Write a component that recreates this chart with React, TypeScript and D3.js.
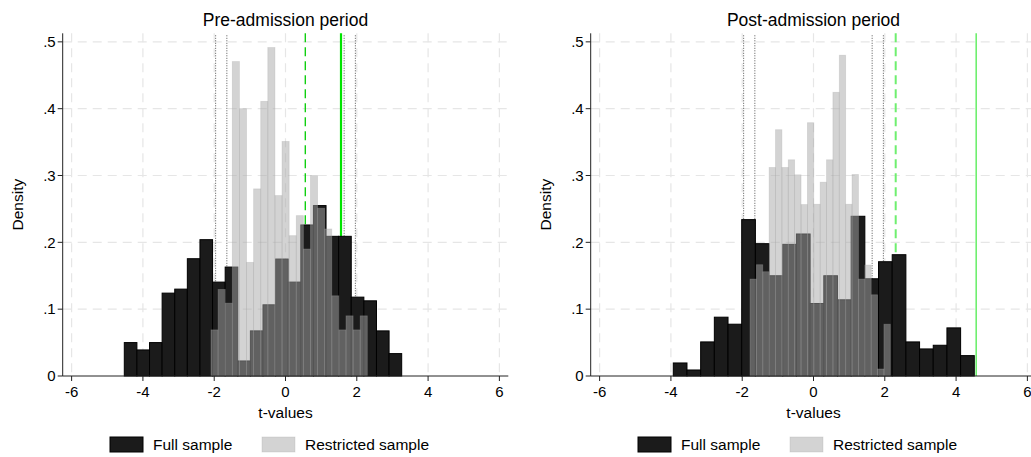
import React from "react";
import * as d3 from "d3";

// Histogram densities (t-statistics), one value per bin
const preFull = [0.05, 0.039, 0.05, 0.124, 0.13, 0.1755, 0.204, 0.1405, 0.163, 0.0225, 0.0675,
  0.1065, 0.175, 0.1405, 0.226, 0.255, 0.209, 0.209, 0.118, 0.1125, 0.0675, 0.0335];
const preRestricted = [0.069, 0.1295, 0.109, 0.4705, 0.40, 0.17, 0.28, 0.411, 0.4915, 0.27, 0.351,
  0.21, 0.24, 0.19, 0.30, 0.251, 0.22, 0.12, 0.069, 0.09, 0.069, 0.09];
const postFull = [0.0195, 0.009, 0.051, 0.088, 0.0775, 0.234, 0.198, 0.15, 0.197, 0.2125, 0.1085,
  0.15, 0.114, 0.239, 0.1455, 0.171, 0.1815, 0.051, 0.0405, 0.046, 0.072, 0.0305];
const postRestricted = [0.145, 0.1665, 0.156, 0.312, 0.3685, 0.312, 0.3235, 0.301, 0.2565, 0.379, 0.257,
  0.29, 0.3235, 0.4245, 0.48, 0.257, 0.3015, 0.145, 0.166, 0.1215, 0.0105, 0.0775];

// Bin layout: [first edge, bin width]
const preFullBins = [-4.522, 0.3537];
const preRestrictedBins = [-2.09, 0.1993];
const postFullBins = [-3.933, 0.3838];
const postRestrictedBins = [-1.781, 0.1789];

// Reference lines
const criticalValues = [-1.96, -1.645, 1.645, 1.96];
const preThresholds = [0.555, 1.557]; // dashed, solid
const postThresholds = [2.306, 4.564];

const xTicks = [-6, -4, -2, 0, 2, 4, 6];
const yTicks = [0, 0.1, 0.2, 0.3, 0.4, 0.5];
const titles = ["Pre-admission period", "Post-admission period"];
const legendLabels = ["Full sample", "Restricted sample"];

const FONT = "'Liberation Sans', Arial, Helvetica, sans-serif";
const W = 1031;
const H = 457;
const PLOT_W = 445.6;
const TOP = 33.3;
const BASE = 376;

const fmtY = (d: number) => (d === 0 ? "0" : d3.format(".1f")(d).replace(/^0/, ""));

type PanelProps = {
  left: number;
  title: string;
  full: number[];
  fullBins: number[];
  restricted: number[];
  restrictedBins: number[];
  thresholds: number[];
  greenSolid: string;
  greenDashed: string;
  solidWidth: number;
  dashedWidth: number;
};

function Panel(p: PanelProps) {
  const x = d3.scaleLinear().domain([-6.25, 6.25]).range([p.left, p.left + PLOT_W]);
  const y = d3.scaleLinear().domain([0, 0.5128]).range([BASE, TOP]);
  const cx = (p.left + p.left + PLOT_W) / 2;

  const bars = (vals: number[], bins: number[]) =>
    vals.map((v, i) => {
      const x0 = bins[0] + i * bins[1];
      return { x0, x1: x0 + bins[1], v };
    });

  const fullBars = bars(p.full, p.fullBins);
  const resBars = bars(p.restricted, p.restrictedBins);

  const legendX = cx - 175.5;

  return (
    <g>
      {/* grid */}
      {yTicks.filter((t) => t > 0).map((t) => (
        <line key={"gy" + t} x1={x(-6.25)} x2={x(6.25)} y1={y(t)} y2={y(t)}
          stroke="#e6e6e6" strokeWidth={1.2} strokeDasharray="9 6" />
      ))}
      {xTicks.map((t) => (
        <line key={"gx" + t} x1={x(t)} x2={x(t)} y1={TOP} y2={BASE}
          stroke="#e6e6e6" strokeWidth={1.2} strokeDasharray="9 6" />
      ))}

      {/* reference lines */}
      {criticalValues.map((c) => (
        <line key={"cv" + c} x1={x(c)} x2={x(c)} y1={TOP + 2} y2={BASE}
          stroke="#555" strokeWidth={1} strokeDasharray="1 1.5" />
      ))}
      <line x1={x(p.thresholds[0])} x2={x(p.thresholds[0])} y1={TOP} y2={BASE}
        stroke={p.greenDashed} strokeWidth={p.dashedWidth} strokeDasharray="9 5" />
      <line x1={x(p.thresholds[1])} x2={x(p.thresholds[1])} y1={TOP} y2={BASE}
        stroke={p.greenSolid} strokeWidth={p.solidWidth} />

      {/* full sample */}
      {fullBars.map((b, i) => (
        <rect key={"f" + i} x={x(b.x0)} y={y(b.v)} width={x(b.x1) - x(b.x0)} height={y(0) - y(b.v)}
          fill="#1b1b1b" stroke="#000" strokeWidth={1} />
      ))}
      {/* restricted sample, translucent */}
      {resBars.map((b, i) => (
        <rect key={"r" + i} x={x(b.x0)} y={y(b.v)} width={x(b.x1) - x(b.x0)} height={y(0) - y(b.v)}
          fill="#a8a8a8" fillOpacity={0.5} stroke="#a8a8a8" strokeOpacity={0.35} strokeWidth={0.8} />
      ))}

      {/* axes */}
      <line x1={p.left} x2={p.left} y1={TOP} y2={BASE} stroke="#222" strokeWidth={1} />
      <line x1={p.left} x2={p.left + PLOT_W} y1={BASE} y2={BASE} stroke="#222" strokeWidth={1} />
      {yTicks.map((t) => (
        <g key={"yt" + t}>
          <line x1={p.left - 5} x2={p.left} y1={y(t)} y2={y(t)} stroke="#222" strokeWidth={1} />
          <text x={p.left - 7} y={y(t)} dy="0.35em" textAnchor="end" fontSize={15} fontFamily={FONT} fill="#000">
            {fmtY(t)}
          </text>
        </g>
      ))}
      {xTicks.map((t) => (
        <g key={"xt" + t}>
          <line x1={x(t)} x2={x(t)} y1={BASE} y2={BASE + 5} stroke="#222" strokeWidth={1} />
          <text x={x(t)} y={BASE + 21} textAnchor="middle" fontSize={15} fontFamily={FONT} fill="#000">
            {String(t)}
          </text>
        </g>
      ))}
      <text x={cx} y={418} textAnchor="middle" fontSize={15.5} fontFamily={FONT} fill="#000">t-values</text>
      <text transform={`translate(${p.left - 45},${(TOP + BASE) / 2}) rotate(-90)`} textAnchor="middle"
        dy="0.35em" fontSize={15.5} fontFamily={FONT} fill="#000">Density</text>
      <text x={cx} y={25.5} textAnchor="middle" fontSize={17.5} fontFamily={FONT} fill="#000">{p.title}</text>

      {/* legend */}
      <rect x={legendX} y={437} width={33} height={15} fill="#1b1b1b" stroke="#000" strokeWidth={1} />
      <text x={legendX + 43} y={445} dy="0.35em" fontSize={15.5} fontFamily={FONT} fill="#000">{legendLabels[0]}</text>
      <rect x={legendX + 152} y={437} width={33} height={15} fill="#a8a8a8" fillOpacity={0.5}
        stroke="#a8a8a8" strokeOpacity={0.35} strokeWidth={0.8} />
      <text x={legendX + 195} y={445} dy="0.35em" fontSize={15.5} fontFamily={FONT} fill="#000">{legendLabels[1]}</text>
    </g>
  );
}

export default function App() {
  return (
    <svg width={W} height={H} viewBox={`0 0 ${W} ${H}`}
      style={{ position: "absolute", left: 0, top: 0, display: "block", background: "#fff" }}>
      <rect width={W} height={H} fill="#fff" />
      <Panel left={62.7} title={titles[0]} full={preFull} fullBins={preFullBins}
        restricted={preRestricted} restrictedBins={preRestrictedBins} thresholds={preThresholds}
        greenSolid="#00e400" greenDashed="#00cc00" solidWidth={2.2} dashedWidth={1.3} />
      <Panel left={590.7} title={titles[1]} full={postFull} fullBins={postFullBins}
        restricted={postRestricted} restrictedBins={postRestrictedBins} thresholds={postThresholds}
        greenSolid="#6fef6f" greenDashed="#6fef6f" solidWidth={1.6} dashedWidth={2} />
    </svg>
  );
}
